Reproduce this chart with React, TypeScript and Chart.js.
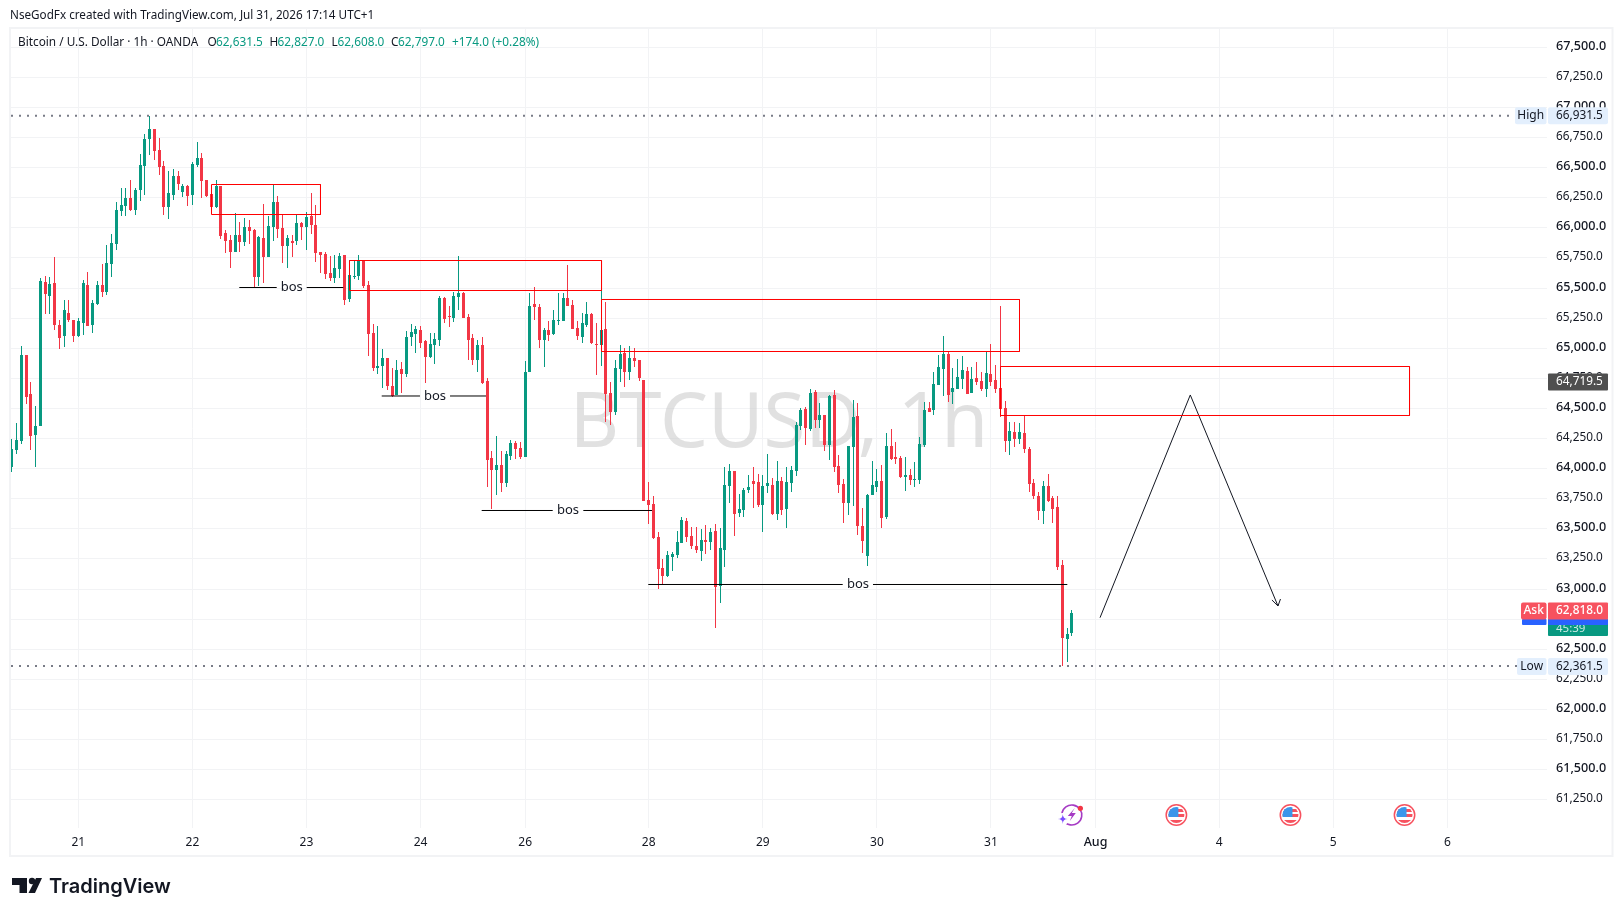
import React, { useEffect, useRef } from "react";
import { Chart, registerables } from "chart.js";

Chart.register(...registerables);

const opens = [
  64016,64155,64229,64944,64620,64279,64357,65550,65434,65542,
  65193,65101,65293,65234,65101,65210,65525,65193,65367,65525,
  65468,65700,65866,66140,66182,66248,66149,66315,66514,66739,
  66822,66647,66514,66174,66273,66431,66298,66348,66273,66523,
  66581,66398,66282,66174,66348,65958,65900,65800,65941,65883,
  66008,65983,65592,65916,65758,66008,66215,66000,65850,65891,
  65891,66041,66008,66099,66024,65800,65783,65625,65584,65659,
  65775,65409,65592,65600,65733,65525,65126,64836,64852,64919,
  64686,64611,64827,64786,65093,65118,65151,65060,64927,65027,
  65068,65417,65268,65251,65426,65459,65259,65085,64902,65027,
  64728,64088,63988,64030,63880,64105,64213,64171,64096,64802,
  65367,65342,65068,65151,65118,65226,65226,65417,65359,65168,
  65093,65193,65284,65035,65027,65160,64628,64470,64827,64960,
  64802,64919,64902,64736,63740,63707,63432,63175,63108,63266,
  63283,63383,63565,63441,63358,63316,63407,63391,63482,63025,
  63324,63856,63981,63632,63657,63823,63898,63889,63698,63856,
  63864,63623,63898,63665,63881,63981,64354,64496,64330,64637,
  64404,64446,64197,64612,64022,63873,63715,64180,64437,63524,
  63275,63781,63848,63898,63599,64188,64097,64089,63931,63947,
  63906,63906,64197,64504,64487,64695,64828,64953,64637,64662,
  64745,64811,64629,64753,64728,64662,64786,64737,64670,64504,
  64230,64305,64246,64296,64163,63881,63773,63648,63856,63756,
  63682,63200,62585,62631.5,
];
const closes = [
  64163,64238,64944,64598,64274,64354,65558,65450,65534,65193,
  65085,65317,65234,65101,65226,65542,65185,65376,65525,65467,
  65708,65875,66149,66190,66248,66149,66315,66523,66739,66822,
  66639,66506,66174,66290,66431,66365,66348,66265,66531,66581,
  66390,66265,66174,66348,65933,65891,65800,65941,65883,66008,
  65974,65592,65924,65758,66016,66215,65991,65850,65916,65875,
  66041,66008,66091,66024,65792,65775,65617,65584,65667,65767,
  65401,65609,65600,65733,65517,65118,64836,64852,64919,64686,
  64603,64819,64786,65093,65135,65160,65043,64927,65035,65077,
  65417,65243,65259,65434,65459,65251,65068,64902,65027,64711,
  64071,63988,64030,63880,64121,64213,64163,64096,64802,65351,
  65342,65068,65151,65110,65234,65234,65417,65351,65160,65101,
  65210,65284,65043,65027,65151,64620,64470,64836,64952,64802,
  64919,64894,64753,63731,63698,63424,63167,63108,63283,63291,
  63391,63574,63432,63358,63324,63407,63391,63474,63017,63341,
  63864,63981,63623,63665,63823,63848,63873,63698,63856,63881,
  63623,63898,63657,63889,63989,64363,64487,64338,64629,64404,
  64446,64197,64604,64014,63864,63715,64188,64429,63524,63399,
  63781,63864,63898,63590,64188,64080,64080,63931,63947,63906,
  63914,64205,64487,64471,64703,64845,64953,64612,64670,64761,
  64820,64620,64745,64720,64662,64795,64720,64662,64496,64230,
  64313,64246,64305,64163,63873,63773,63648,63856,63731,63665,
  63183,62593,62627,62797,
];
const highs = [
  64246,64379,65018,64944,64719,64520,65581,65600,65592,65755,
  65234,65401,65401,65234,65251,65567,65633,65401,65558,65700,
  65858,65947,66212,66329,66329,66398,66332,66614,66780,66931.5,
  66822,66747,66556,66473,66489,66473,66365,66356,66547,66714,
  66622,66398,66315,66398,66348,65983,65941,66124,66049,66082,
  66066,65991,65933,66199,66099,66362,66265,66107,65941,65941,
  66107,66052,66132,66290,66190,65803,65800,65767,65775,65794,
  65775,65733,65733,65774,65733,65558,65201,65185,64994,64919,
  64836,64902,64886,65143,65201,65185,65185,65068,65126,65126,
  65434,65426,65351,65467,65766,65467,65284,65118,65068,65093,
  64753,64146,64271,64146,64146,64238,64229,64221,64894,65456,
  65509,65367,65168,65226,65317,65456,65456,65691,65401,65226,
  65293,65384,65293,65210,65675,65384,64719,64902,65027,65002,
  65018,65002,64902,64736,63889,63773,63474,63250,63316,63308,
  63482,63599,63590,63515,63515,63499,63532,63507,63540,63507,
  64014,64039,63981,63790,63839,63947,64014,63956,63947,64122,
  63922,64064,63931,64014,64022,64388,64504,64512,64662,64653,
  64546,64446,64612,64653,64114,63914,64188,64570,64546,63673,
  63790,64064,63997,64031,64296,64330,64222,64105,64097,63997,
  64055,64263,64554,64554,64803,64944,65102,64969,64836,64911,
  64936,64845,64845,64886,64803,64969,65036,64861,65351,64562,
  64388,64388,64379,64438,64180,63914,63806,63898,63956,63773,
  63773,63241,62676,62827,
];
const lows = [
  63975,64121,64204,64539,64155,64016,64357,65284,65284,65151,
  64994,65010,65218,65052,65093,65110,65185,65126,65359,65426,
  65445,65592,65816,66099,66099,66140,66107,66224,66273,66606,
  66564,66439,66107,66074,66232,66315,66257,66182,66190,66506,
  66248,66257,66140,66165,65908,65792,65667,65800,65800,65850,
  65866,65501,65517,65542,65758,65891,65916,65708,65667,65758,
  65858,65900,65816,65949,65717,65625,65576,65559,65542,65584,
  65360,65385,65575,65567,65503,64935,64811,64786,64670,64653,
  64595,64611,64628,64761,65018,64960,65002,64711,64919,64869,
  65018,65210,65176,65218,65317,65251,64902,64861,64802,64703,
  63847,63664,63781,63806,63847,64071,64080,64080,64096,64802,
  65234,65002,64844,65060,65110,65193,65226,65351,65160,65068,
  65043,65176,65035,64778,64852,64387,64362,64445,64719,64678,
  64736,64844,64728,63731,63540,63416,63000,63042,63100,63150,
  63258,63383,63391,63333,63299,63233,63291,63324,62676,62884,
  63183,63715,63441,63599,63599,63798,63673,63682,63474,63798,
  63615,63574,63615,63507,63806,63939,64321,64197,64313,64338,
  64338,64147,64072,63972,63798,63549,63615,63690,63449,63299,
  63191,63781,63806,63507,63582,64072,64039,63922,63815,63864,
  63848,63873,64180,64471,64446,64695,64604,64554,64537,64662,
  64662,64620,64629,64695,64645,64595,64687,64629,64429,64138,
  64114,64180,64205,64130,63806,63748,63574,63540,63723,63549,
  63158,62361.5,62394,62608,
];

const priceTicks = [
  67500,67250,67000,66750,66500,66250,66000,65750,65500,65250,65000,64750,64500,
  64250,64000,63750,63500,63250,63000,62750,62500,62250,62000,61750,61500,61250,
];
const dayTickBars = [14, 38, 62, 86, 108, 134, 158, 182, 206, 228, 254, 278, 302];
const dayTickLabels = ["21","22","23","24","26","28","29","30","31","Aug","4","5","6"];

const highPrice = 66931.5;
const lowPrice = 62361.5;
const markerPrice = 64719.5;
const askPrice = 62818.0;

// zones: bar start, bar end, top price, bottom price
const zoneStart = [42.02, 71.05, 124.07, 208.0];
const zoneEnd = [64.95, 124.07, 212.0, 294.05];
const zoneTop = [66360.3, 65729, 65405.1, 64848.5];
const zoneBottom = [66111.1, 65479.8, 64973.1, 64441.5];

// break-of-structure levels
const bosPrices = [65504.7, 64603.5, 63652.4, 63037.7];
const bosFrom = [47.87, 77.83, 98.86, 133.91];
const bosGapFrom = [55.74, 85.88, 113.8, 174.81];
const bosLabelAt = [58.89, 89.04, 117.02, 178.03];
const bosGapTo = [62.05, 92.2, 120.24, 181.18];
const bosTo = [69.75, 99.77, 134.69, 222.06];

// projected path with arrow head
const pathBars = [228.94, 247.93, 266.38];
const pathPrices = [62762, 64612, 62859];
const arrowBars = [265.1, 266.38, 266.9];
const arrowPrices = [62909, 62859, 62917];

const eventFlagBars = [245, 269, 293];
const eventSparkBar = 223;

const UP = "#089981";
const DOWN = "#F23645";
const INK = "#131722";
const UI = '"Noto Sans", sans-serif';

const W = 1623;
const H = 916;
const fmt = (v: number) =>
  v.toLocaleString("en-US", { minimumFractionDigits: 1, maximumFractionDigits: 1 });

function box(ctx: any, x: number, y: number, w: number, h: number, r: number, color: string) {
  ctx.fillStyle = color;
  ctx.beginPath();
  ctx.roundRect(x, y, w, h, r);
  ctx.fill();
}
function text(ctx: any, s: string, x: number, y: number, font: string, color: string, align = "left", base = "middle") {
  ctx.font = font;
  ctx.fillStyle = color;
  ctx.textAlign = align;
  ctx.textBaseline = base;
  ctx.fillText(s, x, y);
}

function drawFlag(ctx: any, cx: number, cy: number) {
  ctx.save();
  ctx.fillStyle = "#fff";
  ctx.beginPath();
  ctx.arc(cx, cy, 11, 0, Math.PI * 2);
  ctx.fill();
  ctx.strokeStyle = "#F7525F";
  ctx.lineWidth = 1.5;
  ctx.beginPath();
  ctx.arc(cx, cy, 10.2, 0, Math.PI * 2);
  ctx.stroke();
  ctx.beginPath();
  ctx.arc(cx, cy, 8, 0, Math.PI * 2);
  ctx.clip();
  ctx.fillStyle = "#fff";
  ctx.fillRect(cx - 9, cy - 9, 18, 18);
  ctx.fillStyle = "#F7525F";
  ctx.fillRect(cx - 9, cy - 6, 18, 3);
  ctx.fillRect(cx - 9, cy - 1, 18, 3);
  ctx.fillRect(cx - 9, cy + 5, 18, 4);
  ctx.fillStyle = "#3B96EA";
  ctx.fillRect(cx - 9, cy - 9, 11, 11);
  ctx.restore();
}

function drawSpark(ctx: any, cx: number, cy: number) {
  ctx.save();
  ctx.strokeStyle = "#A63BC4";
  ctx.lineWidth = 1.6;
  ctx.beginPath();
  ctx.arc(cx, cy, 10, -Math.PI * 0.95, Math.PI * 0.75);
  ctx.stroke();
  ctx.fillStyle = "#A63BC4";
  ctx.beginPath();
  ctx.moveTo(cx + 3, cy - 7);
  ctx.lineTo(cx - 4, cy + 1);
  ctx.lineTo(cx, cy + 1);
  ctx.lineTo(cx - 2, cy + 6);
  ctx.lineTo(cx + 4, cy - 2);
  ctx.lineTo(cx, cy - 2);
  ctx.closePath();
  ctx.fill();
  ctx.fillStyle = "#fff";
  ctx.beginPath();
  ctx.arc(cx - 9, cy + 4, 6, 0, Math.PI * 2);
  ctx.fill();
  ctx.fillStyle = "#7C4DFF";
  ctx.beginPath();
  const sx = cx - 9, sy = cy + 4;
  ctx.moveTo(sx, sy - 5);
  ctx.quadraticCurveTo(sx, sy, sx + 5, sy);
  ctx.quadraticCurveTo(sx, sy, sx, sy + 5);
  ctx.quadraticCurveTo(sx, sy, sx - 5, sy);
  ctx.quadraticCurveTo(sx, sy, sx, sy - 5);
  ctx.fill();
  ctx.fillStyle = "#F23645";
  ctx.beginPath();
  ctx.arc(cx + 8.6, cy - 6.7, 2.6, 0, Math.PI * 2);
  ctx.fill();
  ctx.restore();
}

function drawLogo(ctx: any) {
  ctx.fillStyle = "#131722";
  ctx.beginPath();
  ctx.moveTo(12, 878);
  ctx.lineTo(27, 878);
  ctx.lineTo(27, 893);
  ctx.lineTo(19.5, 893);
  ctx.lineTo(19.5, 885);
  ctx.lineTo(12, 885);
  ctx.closePath();
  ctx.fill();
  ctx.beginPath();
  ctx.arc(32, 881, 3.2, 0, Math.PI * 2);
  ctx.fill();
  ctx.beginPath();
  ctx.moveTo(36, 878);
  ctx.lineTo(42, 878);
  ctx.lineTo(35, 893);
  ctx.lineTo(28.5, 893);
  ctx.closePath();
  ctx.fill();
  text(ctx, "TradingView", 49, 893, '600 20px Inter, sans-serif', "#131722", "left", "alphabetic");
}

const overlay = {
  id: "overlay",
  afterDatasetsUpdate(chart: any) {
    chart.data.datasets.forEach((ds: any, i: number) => {
      if (ds.type !== "bar") return;
      chart.getDatasetMeta(i).data.forEach((el: any) => {
        el.x = Math.floor(el.x) + 0.5;
        const a = Math.round(el.y);
        let b = Math.round(el.base);
        if (a === b) b = a + 1;
        el.y = a;
        el.base = b;
      });
    });
  },
  beforeDraw(chart: any) {
    const ctx = chart.ctx;
    ctx.save();
    ctx.fillStyle = "#fff";
    ctx.fillRect(0, 0, W, H);
    ctx.strokeStyle = "#F2F3F5";
    ctx.lineWidth = 2;
    ctx.strokeRect(10, 28, 1602.5, 828);
    text(ctx, "NseGodFx created with TradingView.com, Jul 31, 2026 17:14 UTC+1", 10, 16, `11.7px ${UI}`, INK);
    ctx.restore();
  },
  beforeDatasetsDraw(chart: any) {
    const ctx = chart.ctx;
    ctx.save();
    text(ctx, "BTCUSD, 1h", 779, 425, `76px ${UI}`, "rgba(200,200,200,0.55)", "center");
    ctx.restore();
  },
  afterDraw(chart: any) {
    const ctx = chart.ctx;
    const { x: sx, y: sy } = chart.scales;
    ctx.save();

    // legend row
    const lf = `11.8px ${UI}`;
    const ly0 = 42.5;
    text(ctx, "Bitcoin / U.S. Dollar · 1h · OANDA", 18, ly0, lf, INK);
    text(ctx, "O", 207.5, ly0, lf, INK);
    text(ctx, "62,631.5", 216, ly0, lf, UP);
    text(ctx, "H", 269.6, ly0, lf, INK);
    text(ctx, "62,827.0", 277.5, ly0, lf, UP);
    text(ctx, "L", 331.4, ly0, lf, INK);
    text(ctx, "62,608.0", 337.5, ly0, lf, UP);
    text(ctx, "C", 391, ly0, lf, INK);
    text(ctx, "62,797.0", 398, ly0, lf, UP);
    text(ctx, "+174.0 (+0.28%)", 452, ly0, lf, UP);

    // bos labels
    bosPrices.forEach((p, i) => {
      text(ctx, "bos", sx.getPixelForValue(bosLabelAt[i]), sy.getPixelForValue(p), `13px ${UI}`, INK, "center");
    });

    // axis badges
    const vf = `11.8px ${UI}`;
    const hy = sy.getPixelForValue(highPrice);
    box(ctx, 1515, hy - 8.5, 31.5, 17, 2, "#E3EFFD");
    box(ctx, 1548, hy - 8.5, 60, 17, 2, "#E3EFFD");
    text(ctx, "High", 1530.7, hy, `12px ${UI}`, INK, "center");
    text(ctx, fmt(highPrice), 1556, hy, vf, INK);

    const ly = sy.getPixelForValue(lowPrice);
    box(ctx, 1517, ly - 8, 29.5, 17, 2, "#E3EFFD");
    box(ctx, 1548, ly - 8, 60, 17, 2, "#E3EFFD");
    text(ctx, "Low", 1531.7, ly + 1, `12px ${UI}`, INK, "center");
    text(ctx, fmt(lowPrice), 1556, ly + 1, vf, INK);

    const my = sy.getPixelForValue(markerPrice);
    box(ctx, 1548, my - 8.5, 60, 17, 1, "#4F4F4F");
    text(ctx, fmt(markerPrice), 1556, my, vf, "#fff");

    const ay = sy.getPixelForValue(askPrice);
    box(ctx, 1548, ay + 8, 60, 17, 1, UP);
    text(ctx, "45:39", 1556, ay + 17.5, `11.5px ${UI}`, "rgba(255,255,255,0.8)");
    box(ctx, 1522, ay + 8, 24.5, 6, 1, "#2962FF");
    box(ctx, 1548, ay + 8, 60, 6, 1, "#2962FF");
    box(ctx, 1521, ay - 8.5, 25.5, 17, 2, "#F7525F");
    box(ctx, 1548, ay - 8.5, 60, 17, 1, "#F7525F");
    text(ctx, "Ask", 1533.7, ay, `500 12px ${UI}`, "#fff", "center");
    text(ctx, fmt(askPrice), 1556, ay, `500 11.8px ${UI}`, "#fff");

    // events strip
    const ey = 815;
    eventFlagBars.forEach((b) => drawFlag(ctx, sx.getPixelForValue(b), ey));
    drawSpark(ctx, sx.getPixelForValue(eventSparkBar), ey);

    drawLogo(ctx);
    ctx.restore();
  },
};

const lineBase = { type: "line", pointRadius: 0, tension: 0, fill: false, order: 1, borderWidth: 1 };

export default function App() {
  const ref = useRef<HTMLCanvasElement | null>(null);

  useEffect(() => {
    const isUp = (i: number) => closes[i] >= opens[i];
    const colors = opens.map((_, i) => (isUp(i) ? UP : DOWN));
    const xLeft = -0.158;
    const xRight = 322.97;

    const zones = zoneStart.map((_, i) => ({
      ...lineBase,
      borderColor: "#FF0000",
      data: [
        { x: zoneStart[i], y: zoneTop[i] },
        { x: zoneEnd[i], y: zoneTop[i] },
        { x: zoneEnd[i], y: zoneBottom[i] },
        { x: zoneStart[i], y: zoneBottom[i] },
        { x: zoneStart[i], y: zoneTop[i] },
      ],
    }));
    const bos = bosPrices.flatMap((p, i) => [
      { ...lineBase, borderColor: "#000", data: [{ x: bosFrom[i], y: p }, { x: bosGapFrom[i], y: p }] },
      { ...lineBase, borderColor: "#000", data: [{ x: bosGapTo[i], y: p }, { x: bosTo[i], y: p }] },
    ]);
    const dotted = (price: number, end: number) => ({
      ...lineBase,
      order: 2,
      borderColor: "#787B86",
      borderWidth: 2,
      borderDash: [2, 6],
      data: [{ x: xLeft, y: price }, { x: end, y: price }],
    });

    const chart = new Chart(ref.current as HTMLCanvasElement, {
      data: {
        datasets: [
          {
            type: "bar",
            order: 6,
            grouped: false,
            barThickness: 1,
            inflateAmount: 0,
            backgroundColor: colors,
            data: opens.map((_, i) => ({ x: i, y: [lows[i], highs[i]] })),
          },
          {
            type: "bar",
            order: 5,
            grouped: false,
            barThickness: 3,
            inflateAmount: 0,
            backgroundColor: colors,
            data: opens.map((_, i) => ({ x: i, y: [opens[i], closes[i]] })),
          },
          ...zones,
          ...bos,
          dotted(highPrice, 316.2),
          dotted(lowPrice, 316.7),
          {
            ...lineBase,
            borderColor: INK,
            data: pathBars.map((b, i) => ({ x: b, y: pathPrices[i] })),
          },
          {
            ...lineBase,
            borderColor: INK,
            data: arrowBars.map((b, i) => ({ x: b, y: arrowPrices[i] })),
          },
        ],
      } as any,
      options: {
        responsive: false,
        animation: false,
        devicePixelRatio: 1,
        events: [],
        layout: { padding: { left: 11, top: 29, right: 0, bottom: 0 } },
        plugins: { legend: { display: false }, tooltip: { enabled: false }, title: { display: false } },
        scales: {
          x: {
            type: "linear",
            offset: false,
            min: xLeft,
            max: xRight,
            border: { display: false },
            grid: { color: "#F2F3F5", offset: false, drawTicks: false, lineWidth: 1 },
            afterBuildTicks(scale: any) {
              scale.ticks = dayTickBars.map((v) => ({ value: v }));
            },
            afterFit(scale: any) {
              scale.height = H - 828;
            },
            ticks: {
              autoSkip: false,
              maxRotation: 0,
              minRotation: 0,
              padding: 7,
              color: INK,
              font: (c: any) => ({
                family: UI,
                size: c.tick && c.tick.value === 228 ? 12.5 : 12,
                weight: c.tick && c.tick.value === 228 ? "500" : "400",
              }),
              callback: (v: any) => dayTickLabels[dayTickBars.indexOf(v)] ?? "",
            },
          },
          y: {
            type: "linear",
            position: "right",
            min: 61015,
            max: 67652,
            border: { display: false },
            grid: { color: "#F2F3F5", drawTicks: false, lineWidth: 1 },
            afterBuildTicks(scale: any) {
              scale.ticks = priceTicks.map((v) => ({ value: v }));
            },
            afterFit(scale: any) {
              scale.width = W - 1547;
            },
            ticks: {
              autoSkip: false,
              padding: 9,
              labelOffset: -1,
              color: INK,
              font: (c: any) => {
                const major = c.tick && c.tick.value % 500 === 0;
                return { family: UI, size: major ? 12.6 : 11.8, weight: major ? "500" : "400" };
              },
              callback: (v: any) => fmt(v),
            },
          },
        },
      } as any,
      plugins: [overlay] as any,
    });
    return () => chart.destroy();
  }, []);

  return (
    <div style={{ position: "fixed", left: 0, top: 0, width: W, height: H, background: "#fff" }}>
      <canvas ref={ref} width={W} height={H} style={{ display: "block", width: W, height: H }} />
    </div>
  );
}
